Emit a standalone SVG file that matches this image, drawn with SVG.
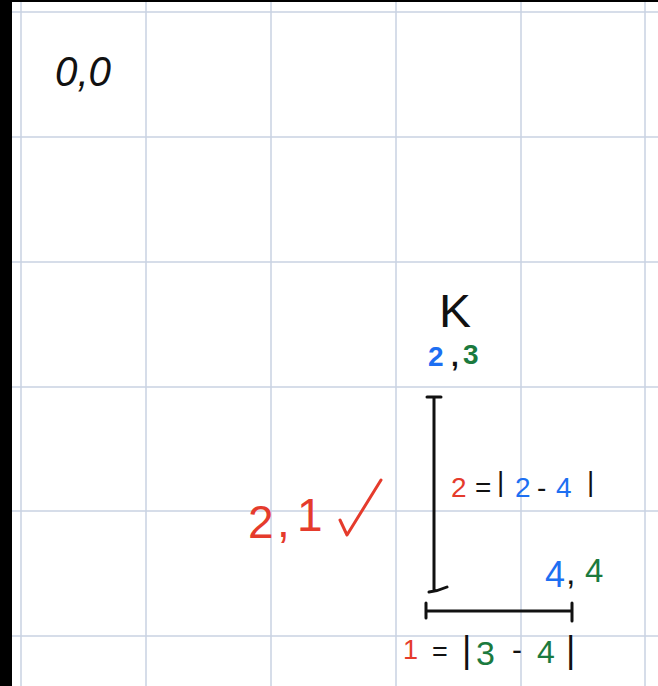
<svg xmlns="http://www.w3.org/2000/svg" width="658" height="686" viewBox="0 0 658 686">
<style>
.grid line{stroke:#c8d2e2;stroke-width:1.5}
.ink{fill:none;stroke:#111;stroke-width:3;stroke-linecap:round;stroke-linejoin:round}
text{font-family:"Liberation Sans",Arial,sans-serif}
.k{fill:#111}
.r{fill:#e53b2c}
.b{fill:#1d6ff2}
.g{fill:#1b7a3e}
</style>
<rect x="0" y="0" width="658" height="686" fill="#ffffff"/>
<g class="grid" id="grid">
<line x1="21" y1="0" x2="21" y2="686"/>
<line x1="146" y1="0" x2="146" y2="686"/>
<line x1="271" y1="0" x2="271" y2="686"/>
<line x1="396" y1="0" x2="396" y2="686"/>
<line x1="521" y1="0" x2="521" y2="686"/>
<line x1="645" y1="0" x2="645" y2="686"/>
<line x1="0" y1="12" x2="658" y2="12"/>
<line x1="0" y1="137" x2="658" y2="137"/>
<line x1="0" y1="262" x2="658" y2="262"/>
<line x1="0" y1="387" x2="658" y2="387"/>
<line x1="0" y1="511" x2="658" y2="511"/>
<line x1="0" y1="636" x2="658" y2="636"/>
</g>
<rect x="0" y="0" width="12" height="686" fill="#000"/>
<rect x="0" y="0" width="658" height="2" fill="#000"/>

<g id="origin">
<text class="k" x="55" y="86" font-size="42" font-style="italic" textLength="56" lengthAdjust="spacingAndGlyphs">0,0</text>
</g>

<g id="node-K">
<text class="k" x="439" y="327" font-size="46" textLength="32" lengthAdjust="spacingAndGlyphs">K</text>
<text x="428" y="366" font-size="28" font-weight="bold"><tspan class="b" x="428">2</tspan><tspan class="k" x="451">,</tspan><tspan class="g" x="463" y="364">3</tspan></text>
</g>

<g id="connectors">
<path class="ink" d="M427,397 L441,397 M434,397 L434,591 M429,592 Q438,591 447,587"/>
<path class="ink" d="M426,611 L572,611 M426,603 L426,618 M572,603 L572,621"/>
</g>

<g id="label-vertical">
<text font-size="28"><tspan class="r" x="451" y="497">2</tspan><tspan class="k" x="475" y="497">=</tspan><tspan class="k" x="497" y="491">|</tspan><tspan class="b" x="515" y="497">2</tspan><tspan class="k" x="537" y="497">-</tspan><tspan class="b" x="556" y="497">4</tspan><tspan class="k" x="587" y="491">|</tspan></text>
</g>

<g id="node-21">
<text font-size="46"><tspan class="r" x="248" y="538">2</tspan><tspan class="r" x="277" y="537">,</tspan><tspan class="r" x="297" y="531">1</tspan></text>
<path d="M340,520 L347,535 L381,480" fill="none" stroke="#e53b2c" stroke-width="3" stroke-linecap="round" stroke-linejoin="round"/>
</g>

<g id="node-44">
<text><tspan class="b" x="545" y="587" font-size="36">4</tspan><tspan class="k" x="566" y="584" font-size="34">,</tspan><tspan class="g" x="585" y="582" font-size="33">4</tspan></text>
</g>

<g id="label-horizontal">
<text font-size="30"><tspan class="r" x="403" y="659" font-size="27">1</tspan><tspan class="k" x="432" y="661" font-size="27">=</tspan><tspan class="k" x="462" y="662" font-size="36">|</tspan><tspan class="g" x="476" y="665" font-size="34">3</tspan><tspan class="k" x="512" y="660">-</tspan><tspan class="g" x="537" y="663" font-size="32">4</tspan><tspan class="k" x="566" y="662" font-size="36">|</tspan></text>
</g>
</svg>
